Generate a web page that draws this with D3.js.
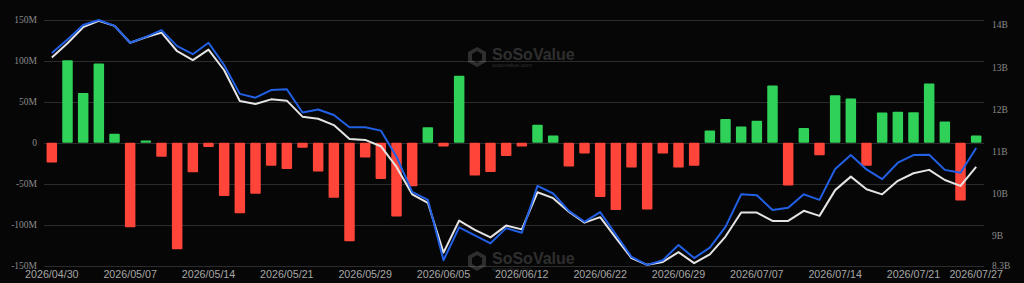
<!DOCTYPE html>
<html>
<head>
<meta charset="utf-8">
<script src="https://cdn.jsdelivr.net/npm/d3@7"></script>
<style>
  html, body { margin: 0; padding: 0; background: #060606; }
  svg { display: block; }
</style>
</head>
<body>
<div id="chart"></div>
<script>
// DATA
const dates = [
  "2026/04/30", "2026/05/01", "2026/05/04", "2026/05/05", "2026/05/06",
  "2026/05/07", "2026/05/08", "2026/05/11", "2026/05/12", "2026/05/13",
  "2026/05/14", "2026/05/15", "2026/05/18", "2026/05/19", "2026/05/20",
  "2026/05/21", "2026/05/22", "2026/05/26", "2026/05/27", "2026/05/28",
  "2026/05/29", "2026/06/01", "2026/06/02", "2026/06/03", "2026/06/04",
  "2026/06/05", "2026/06/08", "2026/06/09", "2026/06/10", "2026/06/11",
  "2026/06/12", "2026/06/15", "2026/06/16", "2026/06/17", "2026/06/18",
  "2026/06/22", "2026/06/23", "2026/06/24", "2026/06/25", "2026/06/26",
  "2026/06/29", "2026/06/30", "2026/07/01", "2026/07/02", "2026/07/06",
  "2026/07/07", "2026/07/08", "2026/07/09", "2026/07/10", "2026/07/13",
  "2026/07/14", "2026/07/15", "2026/07/16", "2026/07/17", "2026/07/20",
  "2026/07/21", "2026/07/22", "2026/07/23", "2026/07/24", "2026/07/27"
];

// daily net inflow, millions
const netInflow = [
  -24, 101, 61, 97, 11, -103, 3, -17, -130, -36,
  -5, -65, -86, -62, -28, -32, -6, -35, -67, -120,
  -18, -44, -90, -53, 19, -4.5, 82, -40, -35.5, -16,
  -4.5, 22, 9, -29, -13, -66, -82, -30, -81.5, -13,
  -30, -28, 15, 29, 20, 27, 70, -52, 18, -15,
  58, 54, -28, 37, 38, 37.5, 72.5, 26, -70.5, 9
];

// total net assets, billions (blue)
const totalNetAssets = [
  13.34, 13.66, 14.00, 14.12, 13.98, 13.58, 13.72, 13.88, 13.50, 13.31,
  13.58, 13.05, 12.37, 12.28, 12.46, 12.48, 11.93, 12.00, 11.87, 11.58,
  11.58, 11.50, 10.88, 10.05, 9.86, 8.43, 9.21, 9.02, 8.83, 9.19,
  9.08, 10.19, 10.01, 9.60, 9.34, 9.57, 9.04, 8.51, 8.32, 8.43,
  8.79, 8.48, 8.73, 9.22, 9.99, 9.97, 9.62, 9.67, 9.99, 9.86,
  10.59, 10.92, 10.58, 10.35, 10.74, 10.92, 10.93, 10.57, 10.50, 11.09
];

// second line, billions (white)
const marketValue = [
  13.23, 13.57, 13.95, 14.10, 13.98, 13.58, 13.71, 13.82, 13.38, 13.17,
  13.42, 12.93, 12.20, 12.13, 12.24, 12.21, 11.83, 11.78, 11.63, 11.30,
  11.28, 11.13, 10.64, 9.99, 9.79, 8.61, 9.37, 9.15, 8.97, 9.25,
  9.16, 10.04, 9.90, 9.58, 9.32, 9.45, 8.96, 8.48, 8.32, 8.39,
  8.62, 8.36, 8.57, 8.99, 9.56, 9.56, 9.36, 9.36, 9.60, 9.48,
  10.09, 10.41, 10.11, 9.99, 10.31, 10.49, 10.57, 10.33, 10.19, 10.64
];

const xTickLabels = [
  "2026/04/30", "2026/05/07", "2026/05/14", "2026/05/21", "2026/05/29",
  "2026/06/05", "2026/06/12", "2026/06/22", "2026/06/29", "2026/07/07",
  "2026/07/14", "2026/07/21", "2026/07/27"
];
const leftTicks = [-150, -100, -50, 0, 50, 100, 150];
const rightTicks = [8.3, 9, 10, 11, 12, 13, 14];

// LAYOUT
const width = 1024, height = 283;
const plot = { left: 44, right: 984, top: 20, bottom: 265.7 };

const svg = d3.select('#chart').append('svg')
  .attr('width', width)
  .attr('height', height);

svg.append('rect')
  .attr('width', width).attr('height', height)
  .attr('fill', '#060606');

const xScale = d3.scaleBand()
  .domain(dates)
  .range([plot.left, plot.right])
  .paddingInner(0.33)
  .paddingOuter(0.165);

const yLeft = d3.scaleLinear()
  .domain([-150, 150])
  .range([plot.bottom, plot.top]);

const yRight = d3.scaleLinear()
  .domain([8.3, 14.12])
  .range([plot.bottom, plot.top]);

// grid lines
svg.append('g').attr('class', 'grid')
  .selectAll('line').data(leftTicks).enter().append('line')
    .attr('x1', plot.left).attr('x2', plot.right)
    .attr('y1', d => Math.round(yLeft(d)) + 0.5)
    .attr('y2', d => Math.round(yLeft(d)) + 0.5)
    .attr('stroke', '#2c2c2c')
    .attr('stroke-width', 1);

// watermarks
function watermark(x, y) {
  const g = svg.append('g')
    .attr('transform', `translate(${x}, ${y})`)
    .attr('opacity', 0.22);
  g.append('path')
    .attr('d', 'M9,0 L18,5 L18,15 L9,20 L0,15 L0,5 Z M9,4 L14,7 L14,13 L9,16 L4,13 L4,7 Z')
    .attr('fill', '#bbbbbb')
    .attr('fill-rule', 'evenodd');
  g.append('text')
    .attr('x', 24).attr('y', 13)
    .attr('font-family', 'Arial, "Liberation Sans", sans-serif')
    .attr('font-weight', 'bold')
    .attr('font-size', 16)
    .attr('fill', '#bbbbbb')
    .text('SoSoValue');
  g.append('text')
    .attr('x', 24).attr('y', 19.5)
    .attr('font-family', 'Arial, "Liberation Sans", sans-serif')
    .attr('font-size', 6)
    .attr('fill', '#bbbbbb')
    .text('sosovalue.com');
}
watermark(468, 47);
watermark(468, 251);

// bars
svg.append('g').attr('class', 'bars')
  .selectAll('rect').data(netInflow).enter().append('rect')
    .attr('x', (d, i) => xScale(dates[i]))
    .attr('width', xScale.bandwidth())
    .attr('y', d => d >= 0 ? yLeft(d) : yLeft(0))
    .attr('height', d => Math.abs(yLeft(d) - yLeft(0)))
    .attr('rx', 1)
    .attr('fill', d => d >= 0 ? '#30d158' : '#ff453a');

// lines
const lineGenerator = d3.line()
  .x((d, i) => xScale(dates[i]) + xScale.bandwidth() / 2)
  .y(d => yRight(d));

svg.append('path')
  .attr('class', 'line-white')
  .attr('fill', 'none')
  .attr('stroke', '#e4e4e4')
  .attr('stroke-width', 2)
  .attr('stroke-linejoin', 'round')
  .attr('d', lineGenerator(marketValue));

svg.append('path')
  .attr('class', 'line-blue')
  .attr('fill', 'none')
  .attr('stroke', '#2260e6')
  .attr('stroke-width', 2)
  .attr('stroke-linejoin', 'round')
  .attr('d', lineGenerator(totalNetAssets));

// left axis labels
svg.append('g').attr('class', 'y-left')
  .selectAll('text').data(leftTicks).enter().append('text')
    .attr('x', 37)
    .attr('y', d => yLeft(d))
    .attr('dy', '0.35em')
    .attr('text-anchor', 'end')
    .attr('font-family', '"Times New Roman", "Liberation Serif", serif')
    .attr('font-size', 9.5)
    .attr('fill', '#8a8a8a')
    .text(d => d === 0 ? '0' : d + 'M');

// right axis labels
svg.append('g').attr('class', 'y-right')
  .selectAll('text').data(rightTicks).enter().append('text')
    .attr('x', 992)
    .attr('y', d => yRight(d))
    .attr('dy', '0.35em')
    .attr('text-anchor', 'start')
    .attr('font-family', '"Times New Roman", "Liberation Serif", serif')
    .attr('font-size', 9.5)
    .attr('fill', '#8a8a8a')
    .text(d => d + 'B');

// x axis labels
svg.append('g').attr('class', 'x-axis')
  .selectAll('text').data(xTickLabels).enter().append('text')
    .attr('x', d => xScale(d) + xScale.bandwidth() / 2)
    .attr('y', 278)
    .attr('text-anchor', 'middle')
    .attr('font-family', 'Arial, "Liberation Sans", sans-serif')
    .attr('font-size', 10.7)
    .attr('fill', '#a6a6a6')
    .text(d => d);
</script>
</body>
</html>
